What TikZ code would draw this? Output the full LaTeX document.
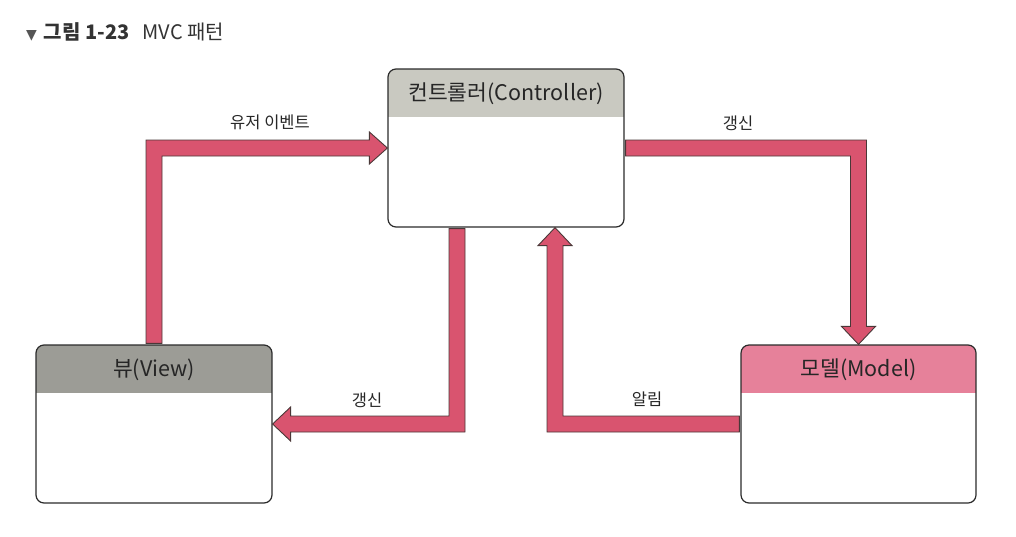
\documentclass[tikz,border=0pt]{standalone}
\usepackage{fontspec}
\setmainfont{Noto Sans CJK KR}
\newfontfamily\symfont{DejaVu Sans}
\usetikzlibrary{calc}
\definecolor{arrowfill}{HTML}{D9546F}
\definecolor{arrowline}{HTML}{4A3838}
\definecolor{boxline}{HTML}{2B2B2B}
\definecolor{hdrctrl}{HTML}{C9C9C1}
\definecolor{hdrview}{HTML}{9C9C96}
\definecolor{hdrmodel}{HTML}{E6819A}
\definecolor{titlec}{HTML}{333333}
\definecolor{tric}{HTML}{555555}
\begin{document}
\begin{tikzpicture}[x=1pt,y=-1pt,
  box/.style={draw=boxline, line width=1.2pt, rounded corners=8pt, minimum width=236pt, minimum height=158pt, inner sep=0pt, fill=white},
  hdr/.style={path picture={\fill[#1, sharp corners] (path picture bounding box.north west) rectangle ([yshift=-48pt]path picture bounding box.north east);}},
  boxtext/.style={font=\fontsize{21.5pt}{25pt}\selectfont, text=black!85, inner sep=0pt},
  lbl/.style={font=\fontsize{16.5pt}{19pt}\selectfont, text=black!85, inner sep=0pt},
  fat/.style={fill=arrowfill, draw=arrowline, line width=0.9pt, line join=miter}]
\useasboundingbox (0,0) rectangle (1016,536);
% title
\node[anchor=west, inner sep=0pt, text=titlec, font=\fontsize{20pt}{24pt}\selectfont] (title) at (26,32)
  {{\symfont\fontsize{14pt}{15pt}\selectfont\color{tric}▼}\hspace{7pt}\textbf{그림 1-23}\hspace{13pt}MVC 패턴};
% boxes
\node[box, hdr=hdrctrl] (ctrl) at (506,148) {};
\node[box, hdr=hdrview] (view) at (154,424) {};
\node[box, hdr=hdrmodel, minimum width=235pt] (model) at (858.5,424) {};
\node[boxtext] (ctrlt) at ($(ctrl.north)+(0,25)$) {컨트롤러(Controller)};
\node[boxtext] (viewt) at ($(view.north)+(0,25)$) {뷰(View)};
\node[boxtext] (modelt) at ($(model.north)+(0,25)$) {모델(Model)};
% arrow 1: view -> controller
\coordinate (a1s) at (view.north);
\coordinate (a1t) at (ctrl.west);
\coordinate (a1c) at (a1s |- a1t);
\draw[fat] ($(a1s)+(-8,-1)$) -- ($(a1c)+(-8,-8)$) -- ($(a1t)+(-18,-8)$) -- ($(a1t)+(-18,-16)$) -- (a1t)
  -- ($(a1t)+(-18,16)$) -- ($(a1t)+(-18,8)$) -- ($(a1c)+(8,8)$) -- ($(a1s)+(8,-1)$) -- cycle;
% arrow 2: controller -> model
\coordinate (a2s) at (ctrl.east);
\coordinate (a2t) at (model.north);
\coordinate (a2c) at (a2t |- a2s);
\draw[fat] ($(a2s)+(1,-8)$) -- ($(a2c)+(8,-8)$) -- ($(a2t)+(8,-18)$) -- ($(a2t)+(17,-18)$) -- (a2t)
  -- ($(a2t)+(-17,-18)$) -- ($(a2t)+(-8,-18)$) -- ($(a2c)+(-8,8)$) -- ($(a2s)+(1,8)$) -- cycle;
% arrow 3: controller -> view
\coordinate (a3s) at ([xshift=-49pt]ctrl.south);
\coordinate (a3t) at (view.east);
\coordinate (a3c) at (a3s |- a3t);
\draw[fat] ($(a3s)+(-8,1)$) -- ($(a3c)+(-8,-8)$) -- ($(a3t)+(18,-8)$) -- ($(a3t)+(18,-17)$) -- (a3t)
  -- ($(a3t)+(18,17)$) -- ($(a3t)+(18,8)$) -- ($(a3c)+(8,8)$) -- ($(a3s)+(8,1)$) -- cycle;
% arrow 4: model -> controller
\coordinate (a4s) at (model.west);
\coordinate (a4t) at ([xshift=49pt]ctrl.south);
\coordinate (a4c) at (a4t |- a4s);
\draw[fat] ($(a4s)+(-1,-8)$) -- ($(a4c)+(8,-8)$) -- ($(a4t)+(8,18)$) -- ($(a4t)+(17,18)$) -- (a4t)
  -- ($(a4t)+(-17,18)$) -- ($(a4t)+(-8,18)$) -- ($(a4c)+(-8,8)$) -- ($(a4s)+(-1,8)$) -- cycle;
% labels
\node[lbl] (l1) at (270,122) {유저 이벤트};
\node[lbl] (l2) at (738,123) {갱신};
\node[lbl] (l3) at (367,400) {갱신};
\node[lbl] (l4) at (647,399) {알림};
\end{tikzpicture}
\end{document}
